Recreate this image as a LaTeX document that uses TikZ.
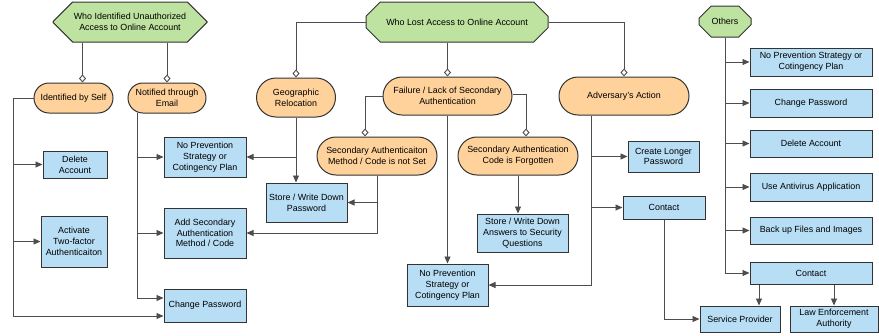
\documentclass[tikz,border=0pt]{standalone}
\usepackage{fontspec}
\setmainfont{Liberation Sans}
\usetikzlibrary{shapes.misc,arrows.meta}
\definecolor{gfill}{HTML}{BEE3A0}
\definecolor{ofill}{HTML}{FFD29B}
\definecolor{bfill}{HTML}{B8DEF5}
\definecolor{bord}{HTML}{333333}
\definecolor{lcol}{HTML}{4D4D4D}
\tikzset{
  base/.style={draw=bord, line width=1pt, align=center, inner sep=1pt, font=\fontsize{8.9}{10.7}\selectfont},
  oct/.style={base, chamfered rectangle, chamfered rectangle xsep=12pt, chamfered rectangle ysep=10pt, fill=gfill},
  stad/.style={base, rounded rectangle, fill=ofill},
  box/.style={base, rectangle, fill=bfill},
  ln/.style={draw=lcol, line width=0.9pt},
  arr/.style={ln, -{Triangle[length=7pt,width=6pt]}},
  dia/.style={ln, -{Diamond[open,length=8pt,width=7pt,fill=white]}},
}
\begin{document}
\begin{tikzpicture}[x=1pt,y=-1pt]
\useasboundingbox (0,0) rectangle (879,335);
% octagons
\node[oct, minimum width=154pt, minimum height=40pt] (wia) at (130,22) {Who Identified Unauthorized\\Access to Online Account};
\node[oct, minimum width=182pt, minimum height=40pt] (wla) at (457,22) {Who Lost Access to Online Account};
\node[oct, chamfered rectangle xsep=10pt, chamfered rectangle ysep=8pt, minimum width=52pt, minimum height=31pt] (oth) at (725,21.5) {Others};
% stadiums
\node[stad, minimum width=81pt, minimum height=30pt] (self) at (73.5,98) {Identified by Self};
\node[stad, minimum width=80pt, minimum height=30pt] (notif) at (167,98) {Notified through\\Email};
\node[stad, minimum width=81pt, minimum height=39pt] (geo) at (296,97.5) {Geographic\\Relocation};
\node[stad, minimum width=131pt, minimum height=38pt] (fail) at (447.5,96) {Failure / Lack of Secondary\\Authentication};
\node[stad, minimum width=132pt, minimum height=38pt] (adv) at (624,96) {Adversary's Action};
\node[stad, minimum width=122pt, minimum height=38pt] (nset) at (377,156) {Secondary Authenticaiton\\Method / Code is not Set};
\node[stad, minimum width=122pt, minimum height=38pt] (forg) at (518,156) {Secondary Authentication\\Code is Forgotten};
% left boxes
\node[box, minimum width=64pt, minimum height=27pt] (del) at (75,164.5) {Delete\\Account};
\node[box, minimum width=66pt, minimum height=51pt] (act) at (74,241.5) {Activate\\Two-factor\\Authenticaiton};
\node[box, minimum width=82pt, minimum height=40pt] (npL) at (205,157) {No Prevention\\Strategy or\\Cotingency Plan};
\node[box, minimum width=82pt, minimum height=50pt] (addS) at (205,233) {Add Secondary\\Authentication\\Method / Code};
\node[box, minimum width=82pt, minimum height=33pt] (cpL) at (205,305.5) {Change Password};
\node[box, minimum width=81pt, minimum height=39pt] (swp) at (306.5,202.5) {Store / Write Down\\Password};
\node[box, minimum width=91pt, minimum height=38pt] (swa) at (522.5,233) {Store / Write Down\\Answers to Security\\Questions};
\node[box, minimum width=81pt, minimum height=42pt] (npM) at (447.5,285) {No Prevention\\Strategy or\\Cotingency Plan};
\node[box, minimum width=71pt, minimum height=31pt] (clp) at (663.5,156.5) {Create Longer\\Password};
\node[box, minimum width=82pt, minimum height=23pt] (ctM) at (664,207.5) {Contact};
\node[box, minimum width=80pt, minimum height=26pt] (sp) at (740,319) {Service Provider};
\node[box, minimum width=88pt, minimum height=26pt] (law) at (834,319) {Law Enforcement\\Authority};
% right boxes
\node[box, minimum width=122pt, minimum height=28pt] (npR) at (811,62) {No Prevention Strategy or\\Cotingency Plan};
\node[box, minimum width=122pt, minimum height=28pt] (cpR) at (811,103) {Change Password};
\node[box, minimum width=122pt, minimum height=27pt] (delR) at (811,143.5) {Delete Account};
\node[box, minimum width=122pt, minimum height=28pt] (avR) at (811,187) {Use Antivirus Application};
\node[box, minimum width=122pt, minimum height=27pt] (buR) at (811,230.5) {Back up Files and Images};
\node[box, minimum width=122pt, minimum height=22pt] (ctR) at (811,273) {Contact};
% top connectors
\draw[dia] ([xshift=9pt]self.north |- wia.south) -- ([xshift=9pt]self.north);
\draw[dia] (notif.north |- wia.south) -- (notif.north);
\draw[dia] (wla.west) -| (geo.north);
\draw[dia] (fail.north |- wla.south) -- (fail.north);
\draw[dia] (wla.east) -| (adv.north);
\draw[dia] (fail.west) -| ([xshift=-12pt]nset.north);
\draw[dia] ([yshift=2pt]fail.east) -| ([xshift=8pt]forg.north);
% left spine
\coordinate (sA) at (13,316);
\draw[arr] (self.west) -| (sA) -- (sA -| cpL.west);
\draw[arr] (sA |- del.west) -- (del.west);
\draw[arr] (sA |- act.west) -- (act.west);
% notified spine
\coordinate (nB) at (137,298);
\draw[arr] ([xshift=-30pt,yshift=1pt]notif.south) -- (nB) -- (nB -| cpL.west);
\draw[arr] (nB |- npL.west) -- (npL.west);
\draw[arr] (nB |- addS.west) -- (addS.west);
% geographic
\draw[arr] (geo.south) -- (geo.south |- swp.north);
\draw[arr] (geo.south |- npL.east) -- (npL.east);
% not set
\draw[arr] (nset.south) -- (nset.south |- addS.east) -- (addS.east);
\draw[arr] (nset.south |- swp.east) -- (swp.east);
% forgotten
\draw[arr] (forg.south) -- (forg.south |- swa.north);
% failure
\draw[arr] (fail.south) -- (npM.north);
% adversary
\coordinate (aB) at (591,285);
\draw[arr] (aB |- adv.south) -- (aB) -- (npM.east);
\draw[arr] (aB |- clp.west) -- (clp.west);
\draw[arr] (aB |- ctM.west) -- (ctM.west);
\draw[arr] (ctM.south) -- (ctM.south |- sp.west) -- (sp.west);
% others
\coordinate (oB) at (725,273);
\draw[arr] (oth.south) -- (oB) -- (ctR.west);
\draw[arr] (oB |- npR.west) -- (npR.west);
\draw[arr] (oB |- cpR.west) -- (cpR.west);
\draw[arr] (oB |- delR.west) -- (delR.west);
\draw[arr] (oB |- avR.west) -- (avR.west);
\draw[arr] (oB |- buR.west) -- (buR.west);
\draw[arr] ([xshift=19pt]sp.north |- ctR.south) -- ([xshift=19pt]sp.north);
\draw[arr] (law.north |- ctR.south) -- (law.north);
\end{tikzpicture}
\end{document}
